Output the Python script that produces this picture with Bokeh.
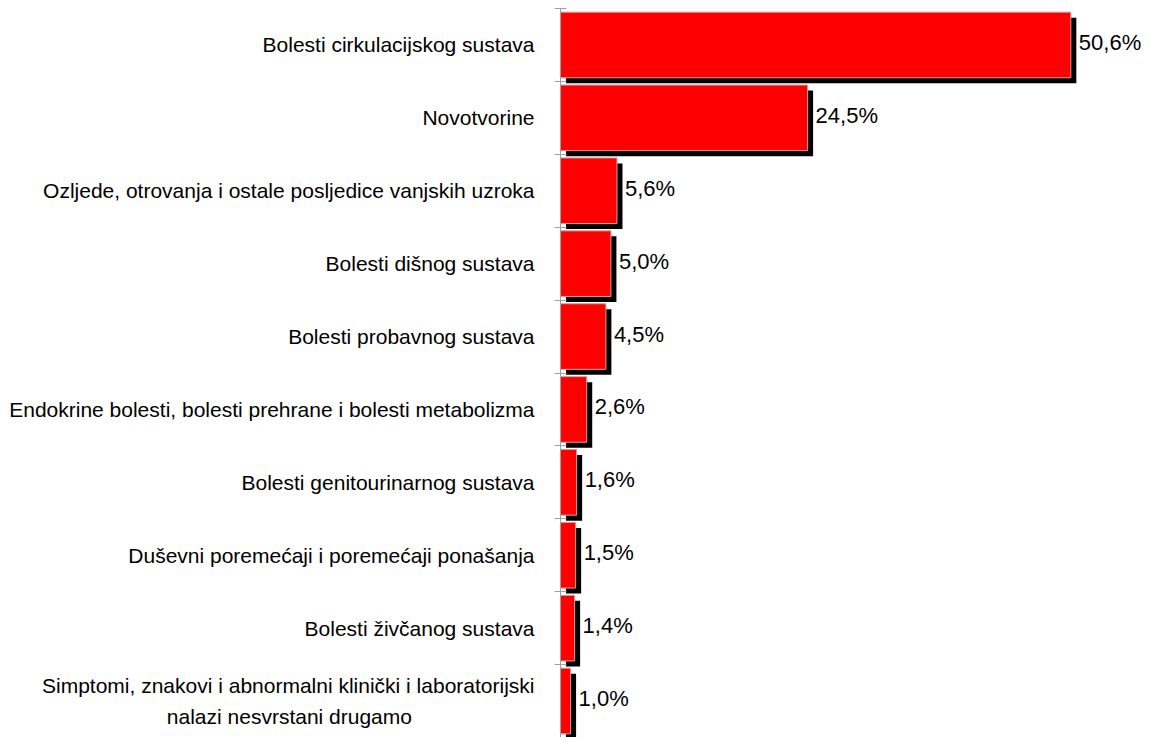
from bokeh.plotting import figure
from bokeh.models import Range1d, FixedTicker, ColumnDataSource
from bokeh.core.properties import value
from bokeh.embed import file_html
from bokeh.resources import INLINE

categories = [
    "Bolesti cirkulacijskog sustava",
    "Novotvorine",
    "Ozljede, otrovanja i ostale posljedice vanjskih uzroka",
    "Bolesti dišnog sustava",
    "Bolesti probavnog sustava",
    "Endokrine bolesti, bolesti prehrane i bolesti metabolizma",
    "Bolesti genitourinarnog sustava",
    "Duševni poremećaji i poremećaji ponašanja",
    "Bolesti živčanog sustava",
    "Simptomi, znakovi i abnormalni klinički i laboratorijski\nnalazi nesvrstani drugamo",
]
values = [50.6, 24.5, 5.6, 5.0, 4.5, 2.6, 1.6, 1.5, 1.4, 1.0]
value_labels = ["50,6%", "24,5%", "5,6%", "5,0%", "4,5%", "2,6%", "1,6%", "1,5%", "1,4%", "1,0%"]

W, H = 1149, 737
LEFT = 560
TOP = 8
X_END = 58.4
n = len(categories)

frame_w = W - LEFT
frame_h = H - TOP
px_x = X_END / frame_w          # data units per px (x)
px_y = n / frame_h              # data units per px (y)

pos = [i + 0.5 for i in range(n)]

src = ColumnDataSource(dict(
    y=pos,
    v=values,
    lab=value_labels,
    ys=[p_ + 5.5 * px_y for p_ in pos],
    l_s=[5.5 * px_x] * n,
    r_s=[v + 5.5 * px_x for v in values],
    xl=[v + 8 * px_x for v in values],
    yl=[p_ - 2.5 * px_y for p_ in pos],
))

p = figure(width=W, height=H, output_backend="svg", toolbar_location=None,
           x_range=Range1d(0, X_END), y_range=Range1d(n, 0),
           min_border_left=LEFT, min_border_right=0, min_border_top=TOP, min_border_bottom=0)
p.outline_line_color = None
p.grid.visible = False
p.xaxis.visible = False

# shadows
p.hbar(y="ys", left="l_s", right="r_s", height=0.9, source=src,
       fill_color="black", line_color=None)
# bars
p.hbar(y="y", left=0, right="v", height=0.9, source=src,
       fill_color="#ff0000", line_color="#d0a0a0", line_width=1)
# value labels
p.text(x="xl", y="yl", text="lab", source=src, text_font=value("Liberation Sans"),
       text_font_size="22px", text_baseline="middle", text_align="left", text_color="black")

# centre the second line of the two-line label under the first (NBSP padding)
tick_labels = list(categories)
first, second = tick_labels[-1].split("\n")
tick_labels[-1] = first + "\n" + second + "\u00a0" * 21

ax = p.yaxis[0]
ax.ticker = FixedTicker(ticks=pos, minor_ticks=list(range(n + 1)))
ax.major_label_overrides = {p_: c for p_, c in zip(pos, tick_labels)}
ax.major_tick_line_color = None
ax.major_tick_out = 0
ax.major_tick_in = 0
ax.minor_tick_line_color = "#a0a0a0"
ax.minor_tick_out = 6
ax.minor_tick_in = 6
ax.axis_line_color = "#a0a0a0"
ax.major_label_standoff = 20
ax.major_label_text_font = "Liberation Sans"
ax.major_label_text_font_size = "21px"
ax.major_label_text_line_height = 1.33
ax.major_label_text_color = "black"

open("out.html", "w").write(file_html(p, INLINE))
